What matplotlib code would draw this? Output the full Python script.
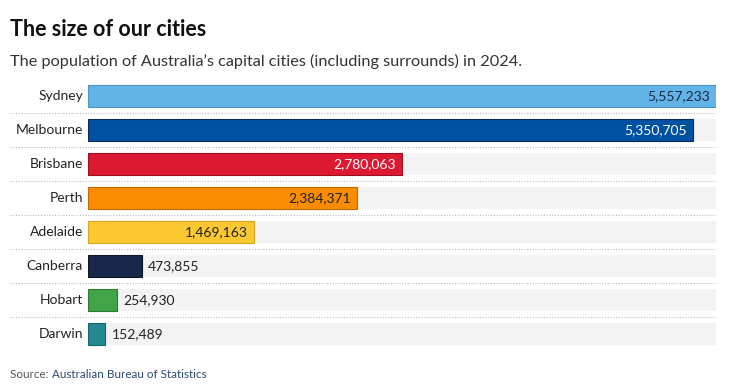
import matplotlib
matplotlib.use('Agg')
from matplotlib import pyplot as plt

cities = ['Sydney', 'Melbourne', 'Brisbane', 'Perth', 'Adelaide', 'Canberra', 'Hobart', 'Darwin']
population = [5557233, 5350705, 2780063, 2384371, 1469163, 473855, 254930, 152489]
colors = ['#62b4e8', '#0051a2', '#dc1931', '#fa8c00', '#fbc832', '#19284a', '#41a548', '#23888f']
edges = ['#4f93c0', '#0a2c5c', '#9c1020', '#c06a00', '#d7a520', '#0e1628', '#2c7a33', '#17656a']
label_colors = ['#1a2a40', 'white', 'white', '#222222', '#222222', None, None, None]

plt.rcParams['font.family'] = ['Lato', 'DejaVu Sans']

fig = plt.figure(figsize=(7.41, 3.91), dpi=100)
ax = fig.add_axes([88 / 741, 1 - 351 / 391, 628 / 741, 272 / 391])

n = len(cities)
xmax = max(population)
ypos = list(range(n))

# grey track behind every bar
ax.barh(ypos, [xmax] * n, height=0.65, color='#f3f3f3', zorder=1)
ax.barh(ypos, population, height=0.65, color=colors, edgecolor=edges, linewidth=0.8, zorder=2)

for i, (city, val) in enumerate(zip(cities, population)):
    ax.text(-0.008, i, city, transform=ax.get_yaxis_transform(), ha='right', va='center',
            fontsize=10, color='#222222')
    txt = f'{val:,}'
    if label_colors[i] is not None:
        ax.text(val - xmax * 0.01, i, txt, ha='right', va='center', fontsize=10,
                color=label_colors[i], zorder=3)
    else:
        ax.text(val + xmax * 0.01, i, txt, ha='left', va='center', fontsize=10,
                color='#222222', zorder=3)

for i in range(n - 1):
    ax.plot([-78 / 628, 1], [i + 0.5, i + 0.5], transform=ax.get_yaxis_transform(),
            color='#bbbbbb', linestyle=(0, (1, 1.5)), linewidth=0.8, clip_on=False, zorder=0)

ax.set_xlim(0, xmax)
ax.set_ylim(n - 0.5, -0.5)
ax.axis('off')

fig.text(10 / 741, 1 - 30 / 391, 'The size of our cities', fontsize=15.5, fontweight='bold',
         color='#111111', va='center', ha='left')
fig.text(10 / 741, 1 - 61 / 391,
         "The population of Australia\u2019s capital cities (including surrounds) in 2024.",
         fontsize=11.7, color='#333333', va='center', ha='left')
src = fig.text(10 / 741, 1 - 374 / 391, 'Source: ', fontsize=8.4, color='#555555', va='center', ha='left')
fig.canvas.draw()
bb = src.get_window_extent()
fig.text(bb.x1 / 741, 1 - 374 / 391, 'Australian Bureau of Statistics', fontsize=8.4,
         color='#2b4a70', va='center', ha='left')

fig.savefig('out.png', dpi=100)
